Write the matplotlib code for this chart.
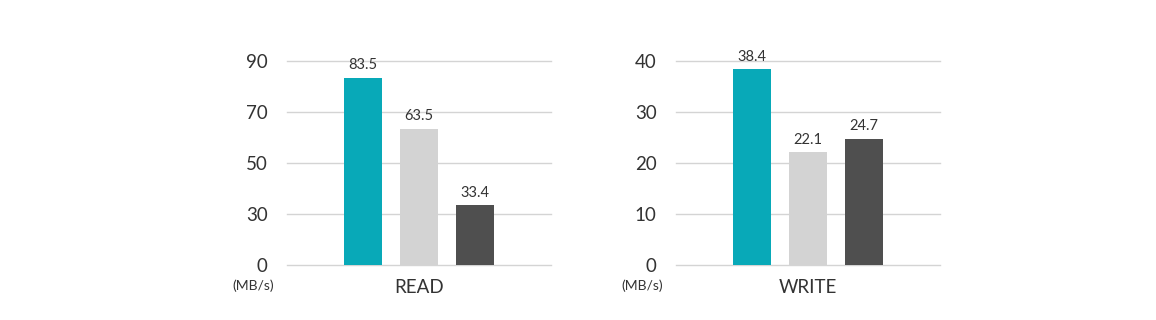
import numpy as np
import matplotlib.pyplot as plt

plt.rcParams['font.family'] = ['Lato', 'DejaVu Sans']

# data
groups = ['READ', 'WRITE']
read_vals = [83.5, 63.5, 33.4]
write_vals = [38.4, 22.1, 24.7]
read_ticks = [0, 30, 50, 70, 90]
write_ticks = [0, 10, 20, 30, 40]
unit = '(MB/s)'
colors = ['#08a9b8', '#d3d3d3', '#4f4f4f']
txt = '#333333'

fig = plt.figure(figsize=(11.56, 3.2), dpi=100)
ax1 = fig.add_axes([287/1156, 55/320, 264/1156, 204/320])
ax2 = fig.add_axes([676/1156, 55/320, 264/1156, 204/320])

def setup(ax, vals, ticks, name, even=False):
    x = np.arange(len(vals))
    if even:
        # ticks are evenly spaced in the original even though values are not
        idx = np.arange(len(ticks))
        ax.set_yscale('function', functions=(
            lambda v: np.interp(v, ticks, idx),
            lambda v: np.interp(v, idx, ticks)))
    bars = ax.bar(x, vals, width=0.68, color=colors, zorder=3)
    ax.bar_label(bars, labels=[f'{v:.1f}' for v in vals], padding=4,
                 fontsize=10.5, color=txt)
    ax.set_xlim(-1.357, 3.357)
    ax.set_ylim(ticks[0], ticks[-1])
    ax.set_yticks(ticks)
    ax.set_yticklabels([str(t) for t in ticks], fontsize=13.5, color=txt)
    ax.set_xticks([])
    ax.tick_params(axis='y', length=0, pad=14)
    ax.grid(axis='y', color='#d4d4d4', lw=1, zorder=0)
    for g in ax.get_ygridlines():
        g.set_clip_on(False)
    for s in ax.spines.values():
        s.set_visible(False)
    ax.text(0.5, -0.108, name, transform=ax.transAxes, ha='center', va='center',
            fontsize=13.5, color=txt)
    ax.text(-0.129, -0.103, unit, transform=ax.transAxes, ha='center', va='center',
            fontsize=10, color=txt)

setup(ax1, read_vals, read_ticks, groups[0], even=True)
setup(ax2, write_vals, write_ticks, groups[1])

fig.savefig('out.png', dpi=100)
